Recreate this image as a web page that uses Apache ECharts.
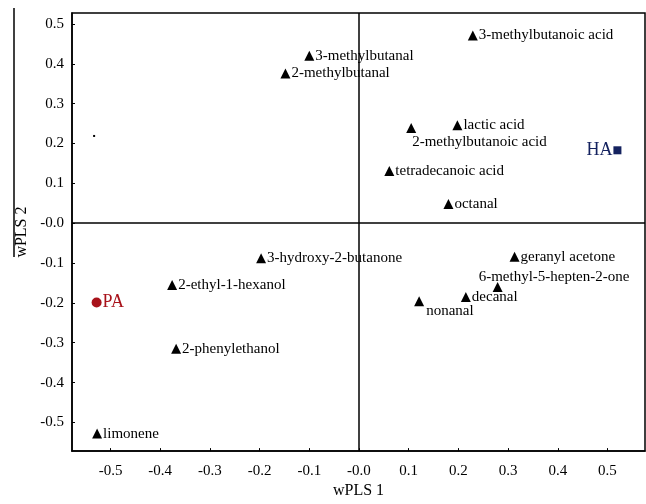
<!DOCTYPE html>
<html>
<head>
<meta charset="utf-8">
<script src="https://cdn.jsdelivr.net/npm/echarts@6/dist/echarts.min.js"></script>
<style>
  html, body { margin: 0; padding: 0; background: #fff; }
  #main { width: 646px; height: 504px; }
</style>
</head>
<body>
<div id="main"></div>
<script>
  // compounds (loadings)
  var compoundNames = ['3-methylbutanoic acid', '3-methylbutanal', '2-methylbutanal', 'lactic acid',
    '2-methylbutanoic acid', 'tetradecanoic acid', 'octanal', '3-hydroxy-2-butanone', 'geranyl acetone',
    '2-ethyl-1-hexanol', '6-methyl-5-hepten-2-one', 'decanal', 'nonanal', '2-phenylethanol', 'limonene'];
  var compoundX = [0.229, -0.100, -0.148, 0.198, 0.105, 0.061, 0.180, -0.197, 0.313, -0.376, 0.279, 0.215, 0.121, -0.368, -0.527];
  var compoundY = [0.471, 0.420, 0.376, 0.246, 0.239, 0.131, 0.048, -0.088, -0.084, -0.155, -0.160, -0.185, -0.196, -0.315, -0.528];

  // samples (scores)
  var paPoint = [-0.528, -0.199];
  var haPoint = [0.520, 0.183];
  var strayDot = [-0.533, 0.219];

  var xTicks = [-0.5, -0.4, -0.3, -0.2, -0.1, 0, 0.1, 0.2, 0.3, 0.4, 0.5];
  var yTicks = [-0.5, -0.4, -0.3, -0.2, -0.1, 0, 0.1, 0.2, 0.3, 0.4, 0.5];

  // labels that are not simply to the right of the marker
  var labelPlacement = {
    '2-methylbutanoic acid': [6, 19],
    'nonanal': [12, 15],
    '6-methyl-5-hepten-2-one': [-14, -5]
  };

  var serif = 'Liberation Serif';
  var fmt = function (v) { return Math.abs(v) < 1e-9 ? '-0.0' : v.toFixed(1); };

  var compoundData = compoundNames.map(function (n, i) {
    var item = { name: n, value: [compoundX[i], compoundY[i]] };
    if (labelPlacement[n]) {
      item.label = { position: labelPlacement[n], align: 'left', verticalAlign: 'middle' };
    }
    return item;
  });

  function axisCommon(ticks) {
    return {
      type: 'value',
      splitLine: { show: false },
      axisLine: { show: true, onZero: false, lineStyle: { color: '#000', width: 1.5 } },
      axisTick: { show: true, inside: true, length: 3, customValues: ticks, lineStyle: { color: '#000' } },
      axisLabel: { customValues: ticks, formatter: fmt, color: '#000', fontFamily: serif, fontSize: 15 },
      nameLocation: 'middle',
      nameTextStyle: { color: '#000', fontFamily: serif, fontSize: 16 }
    };
  }

  var xAxis = axisCommon(xTicks);
  xAxis.min = -0.5775; xAxis.max = 0.5755;
  xAxis.name = 'wPLS 1'; xAxis.nameGap = 29;
  xAxis.axisLabel.margin = 12;

  var yAxis = axisCommon(yTicks);
  yAxis.min = -0.572; yAxis.max = 0.5276;
  yAxis.name = 'wPLS 2'; yAxis.nameGap = 41;
  yAxis.axisLabel.margin = 8;

  var chart = echarts.init(document.getElementById('main'));
  chart.setOption({
    animation: false,
    backgroundColor: '#fff',
    grid: { left: 72, right: 1, top: 13, bottom: 52, show: true, borderColor: '#000', borderWidth: 1.5 },
    xAxis: xAxis,
    yAxis: yAxis,
    graphic: [{
      type: 'line', shape: { x1: 14, y1: 8, x2: 14, y2: 257 },
      style: { stroke: '#000', lineWidth: 1.5 }
    }],
    series: [
      {
        name: 'compounds',
        type: 'scatter',
        symbol: 'triangle',
        symbolSize: 10,
        itemStyle: { color: '#000', opacity: 1 },
        label: {
          show: true, position: 'right', distance: 1,
          formatter: '{b}', color: '#000', fontFamily: serif, fontSize: 15
        },
        data: compoundData,
        markLine: {
          silent: true, symbol: 'none', label: { show: false },
          lineStyle: { color: '#000', width: 1.5, type: 'solid', opacity: 1 },
          data: [{ xAxis: 0 }, { yAxis: 0 }]
        }
      },
      {
        name: 'PA',
        type: 'scatter',
        symbol: 'circle',
        symbolSize: 10,
        itemStyle: { color: '#a8121a', opacity: 1 },
        label: { show: true, position: 'right', distance: 1, formatter: 'PA', color: '#a8121a', fontFamily: serif, fontSize: 18 },
        data: [paPoint]
      },
      {
        name: 'HA',
        type: 'scatter',
        symbol: 'rect',
        symbolSize: 8,
        itemStyle: { color: '#14225f', opacity: 1 },
        label: { show: true, position: 'left', distance: 1, formatter: 'HA', color: '#14225f', fontFamily: serif, fontSize: 18 },
        data: [haPoint]
      },
      {
        name: 'dot',
        type: 'scatter',
        symbol: 'rect',
        symbolSize: 2,
        itemStyle: { color: '#000', opacity: 1 },
        data: [strayDot]
      }
    ]
  });
</script>
</body>
</html>
